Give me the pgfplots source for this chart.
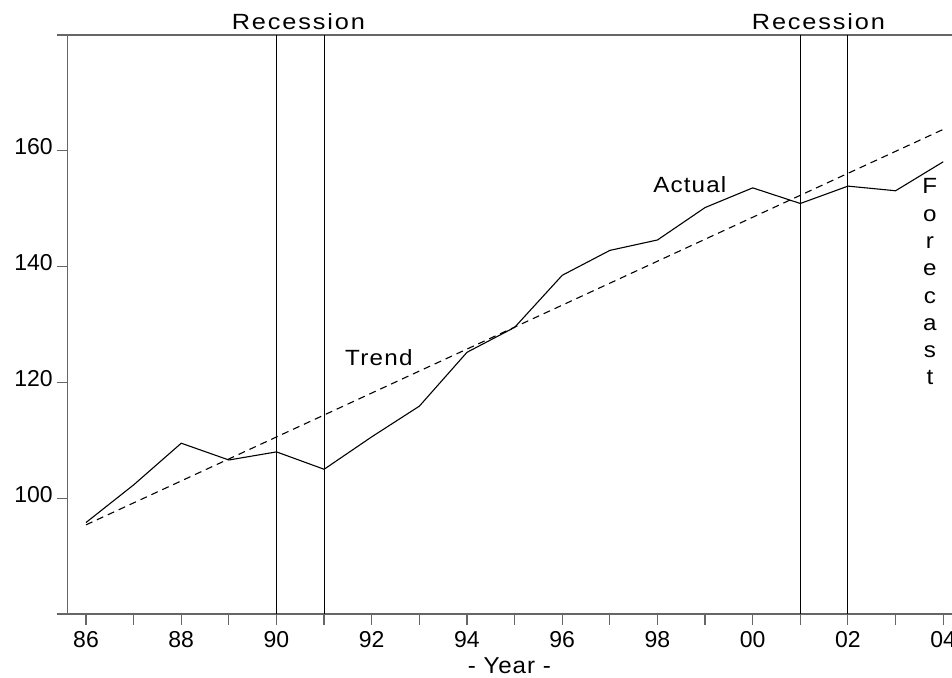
\documentclass[border=0pt]{standalone}
\usepackage{fontspec}
\setmainfont{Liberation Sans}
\newfontfamily\recfont[FakeStretch=1.15, LetterSpace=8.5]{Liberation Sans}
\newfontfamily\trendfont[FakeStretch=1.1, LetterSpace=6]{Liberation Sans}
\newfontfamily\actfont[FakeStretch=1.1, LetterSpace=5]{Liberation Sans}
\newfontfamily\yearfont[FakeStretch=1.05, LetterSpace=4]{Liberation Sans}
\usepackage{pgfplots}
\pgfplotsset{compat=1.18}
\begin{document}
\begin{tikzpicture}
\begin{axis}[
  at={(0,0)}, anchor=south west,
  scale only axis, width=446.35pt, height=289.5pt,
  xmin=1985.607, xmax=2004.353, ymin=80, ymax=180,
  axis line style={draw=black!60, line width=0.75pt},
  tick style={draw=black!60, line width=0.6pt},
  tick align=outside, tick pos=left,
  major tick length=5.3pt,
  xtick={1986,1987,...,2004},
  xticklabels={86,,88,,90,,92,,94,,96,,98,,00,,02,,04},
  ytick={80,100,...,180},
  yticklabels={,100,120,140,160,},
  ticklabel style={font=\fontsize{11.5}{13}\selectfont},
  yticklabel style={inner sep=1.8pt, yshift=2pt},
  clip=false,
]
% recession lines
\addplot[black, line width=0.5pt] coordinates {(1990,80) (1990,180)};
\addplot[black, line width=0.5pt] coordinates {(1991,80) (1991,180)};
\addplot[black, line width=0.5pt] coordinates {(2001,80) (2001,180)};
\addplot[black, line width=0.5pt] coordinates {(2002,80) (2002,180)};
% trend
\addplot[black, line width=0.55pt, dash pattern=on 3.5pt off 2.5pt] coordinates {(1986,95.4) (2004,163.7)};
% actual
\addplot[black, line width=0.55pt] coordinates {
(1986,95.8) (1987,102.3) (1988,109.5) (1989,106.6) (1990,108.0)
(1991,105.0) (1992,110.6) (1993,115.9) (1994,125.2) (1995,129.5)
(1996,138.5) (1997,142.8) (1998,144.6) (1999,150.2) (2000,153.6)
(2001,150.9) (2002,153.9) (2003,153.1) (2004,158.1)};
% labels
\node[anchor=base, inner sep=0pt, yshift=3pt, font=\recfont\fontsize{11}{13}\selectfont] at (axis cs:1990.46,180) {Recession};
\node[anchor=base, inner sep=0pt, yshift=3pt, font=\recfont\fontsize{11}{13}\selectfont] at (axis cs:2001.38,180) {Recession};
\node[anchor=base, inner sep=0pt, font=\trendfont\fontsize{11}{13}\selectfont] at (axis cs:1992.15,123.0) {Trend};
\node[anchor=base, inner sep=0pt, font=\actfont\fontsize{11}{13}\selectfont] at (axis cs:1998.68,152.8) {Actual};
\node[anchor=north, inner sep=0pt, align=center, font=\actfont\fontsize{11}{13.65}\selectfont] at (axis cs:2003.72,155.25) {F\\o\\r\\e\\c\\a\\s\\t};
\node[anchor=base, inner sep=0pt, yshift=-29.65pt, font=\yearfont\fontsize{11.5}{13}\selectfont] at (axis cs:1994.89,80) {- Year -};
\end{axis}
\pgfresetboundingbox
\path[use as bounding box] (-33.65pt,-31.5pt) rectangle (442.35pt,307pt);
\end{tikzpicture}
\end{document}
